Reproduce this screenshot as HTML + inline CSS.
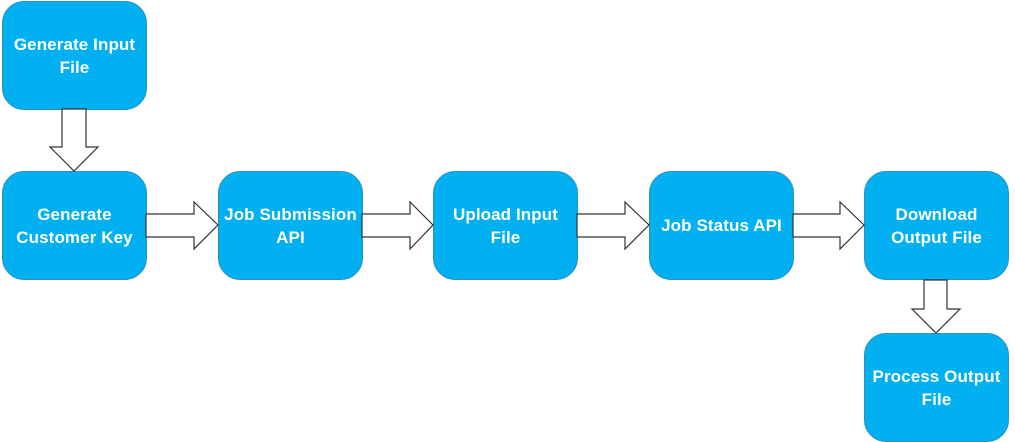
<!DOCTYPE html>
<html><head><meta charset="utf-8"><style>
body{margin:0;width:1015px;height:442px;background:#fff;position:relative;overflow:hidden;font-family:"Liberation Sans",sans-serif}
.b{position:absolute;width:143px;height:107px;background:#00b0f0;border:1px solid #2a8fc4;border-radius:22px;color:#fff;font-weight:bold;font-size:17px;line-height:23px;display:flex;align-items:center;justify-content:center;text-align:center;letter-spacing:0.1px}
svg{position:absolute;left:0;top:0}
</style></head><body>
<div class="b" style="left:2px;top:1px">Generate Input<br>File</div>
<div class="b" style="left:2px;top:171px">Generate<br>Customer Key</div>
<div class="b" style="left:218px;top:171px">Job Submission<br>API</div>
<div class="b" style="left:433px;top:171px">Upload Input<br>File</div>
<div class="b" style="left:649px;top:171px">Job Status API</div>
<div class="b" style="left:864px;top:171px">Download<br>Output File</div>
<div class="b" style="left:864px;top:333px">Process Output<br>File</div>
<svg width="1015" height="442" fill="#fff" stroke="#333" stroke-width="1.2">
<polygon points="62,109 86,109 86,147 98,147 74,171 50,147 62,147"/>
<polygon points="924,280 947,280 947,309 960,309 936,333 912,309 924,309"/>
<polygon points="146,214 194,214 194,202 218,225 194,249 194,237 146,237"/>
<polygon points="362,214 410,214 410,202 433,225 410,249 410,237 362,237"/>
<polygon points="577,214 625,214 625,202 649,225 625,249 625,237 577,237"/>
<polygon points="793,214 840,214 840,202 864,225 840,249 840,237 793,237"/>
</svg>
</body></html>
